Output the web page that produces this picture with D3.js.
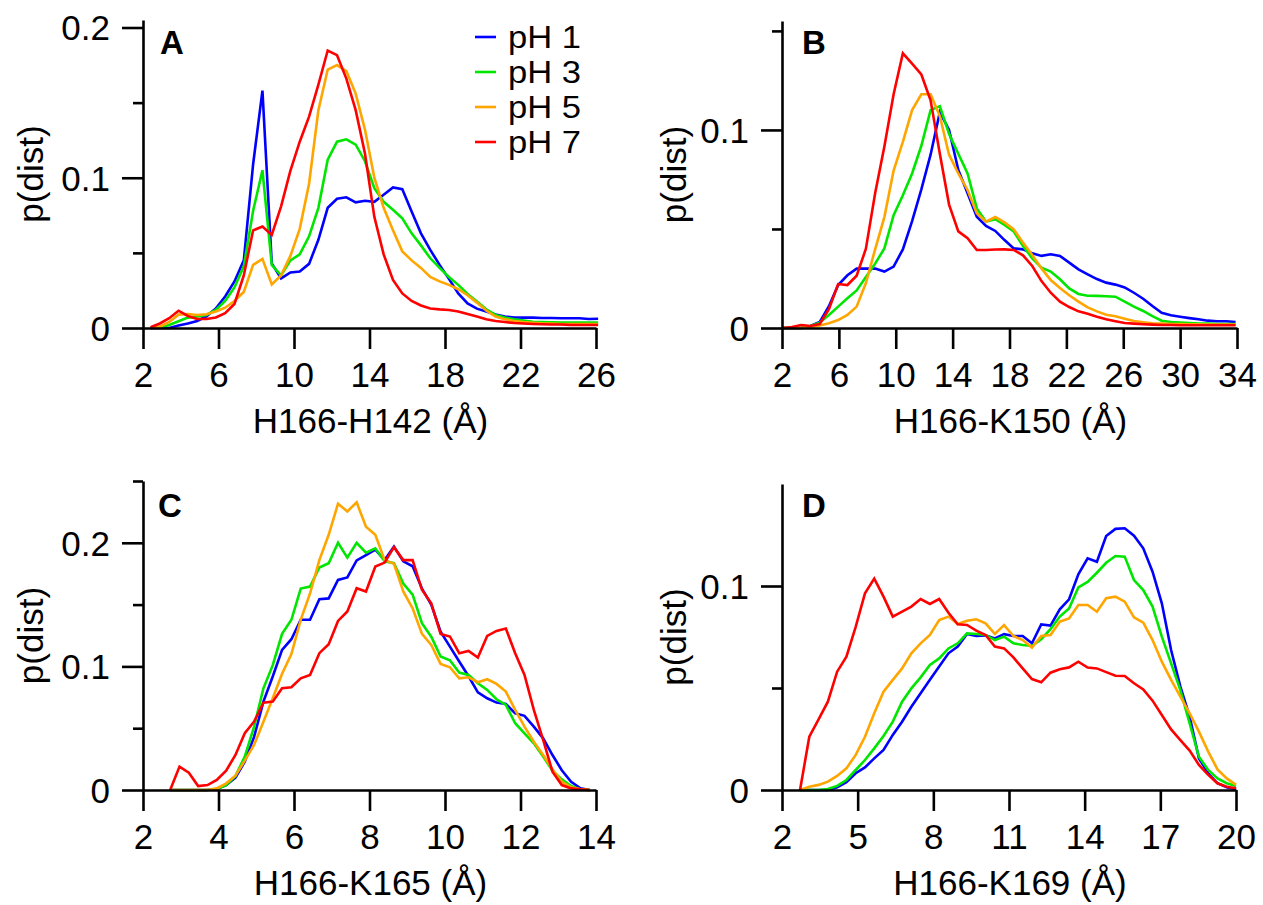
<!DOCTYPE html>
<html><head><meta charset="utf-8">
<script src="https://cdn.jsdelivr.net/npm/d3@7"></script>
<style>
body{margin:0;background:#fff}
text{font-family:"Liberation Sans",Arial,Helvetica,sans-serif}
</style>
</head><body>
<svg id="chart" width="1263" height="905"></svg>
<script>
const seriesNames = ["pH 1", "pH 3", "pH 5", "pH 7"];
const seriesColors = ["#0000ff", "#00e600", "#ffa500", "#ff0000"];

// Panel A: H166-H142
const aBinStart = 2.4, aBinWidth = 0.494;
const aPH1 = [0,0,0,0.0016,0.003,0.0047,0.0078,0.013,0.021,0.031,0.045,0.109,0.158,0.043,0.033,0.037,0.0376,0.0427,0.0587,0.080,0.086,0.087,0.0836,0.0847,0.084,0.0887,0.0936,0.0924,0.0776,0.063,0.052,0.042,0.0327,0.023,0.0164,0.0129,0.011,0.009,0.0076,0.007,0.0069,0.0069,0.0067,0.0067,0.0065,0.0065,0.0065,0.006,0.0062];
const aPH3 = [0,0.0005,0.002,0.0045,0.0069,0.0076,0.0087,0.012,0.018,0.027,0.041,0.078,0.105,0.042,0.035,0.045,0.049,0.061,0.080,0.112,0.124,0.1256,0.122,0.111,0.093,0.084,0.0787,0.073,0.063,0.055,0.0464,0.040,0.034,0.0287,0.0227,0.0176,0.0124,0.0087,0.007,0.0058,0.005,0.0042,0.004,0.0038,0.0036,0.0036,0.0036,0.0036,0.0036];
const aPH5 = [0,0.0009,0.004,0.0089,0.0093,0.0087,0.0091,0.011,0.0135,0.018,0.024,0.042,0.046,0.029,0.035,0.048,0.066,0.096,0.145,0.172,0.175,0.171,0.156,0.132,0.100,0.080,0.065,0.051,0.045,0.040,0.034,0.031,0.0287,0.0258,0.0218,0.0169,0.0116,0.0076,0.0058,0.0047,0.004,0.0035,0.0031,0.003,0.0027,0.0027,0.0027,0.0027,0.0027];
const aPH7 = [0.0005,0.003,0.0065,0.0115,0.008,0.006,0.006,0.007,0.0098,0.016,0.035,0.065,0.0676,0.062,0.081,0.1047,0.124,0.1407,0.162,0.1847,0.1816,0.166,0.145,0.116,0.074,0.049,0.032,0.023,0.018,0.015,0.013,0.0124,0.012,0.011,0.0093,0.0076,0.0058,0.0047,0.004,0.0033,0.003,0.0027,0.0025,0.0023,0.0023,0.002,0.002,0.002,0.002];
const aXTicks = [2, 6, 10, 14, 18, 22, 26];
const aYTicks = [0, 0.1, 0.2];
const aYMinor = [0.05, 0.15];
const aXLabel = "H166-H142 (Å)";

// Panel B: H166-K150
const bBinStart = 2.05, bBinWidth = 0.65;
const bPH1 = [0,0,0,0.001,0.003,0.011,0.0217,0.0266,0.030,0.030,0.030,0.0285,0.031,0.0397,0.054,0.070,0.0875,0.109,0.100,0.0798,0.068,0.0562,0.0515,0.049,0.0444,0.0402,0.0397,0.0377,0.0364,0.0372,0.0364,0.033,0.0296,0.0271,0.0247,0.0229,0.0219,0.0205,0.0178,0.0148,0.0111,0.0077,0.0064,0.0057,0.005,0.0044,0.0037,0.0034,0.0034,0.003];
const bPH3 = [0,0,0,0.001,0.0027,0.0066,0.0108,0.015,0.019,0.0257,0.0325,0.0402,0.057,0.067,0.078,0.092,0.110,0.112,0.098,0.088,0.078,0.0604,0.0537,0.0549,0.052,0.0487,0.0414,0.0352,0.0305,0.0285,0.0246,0.020,0.0172,0.0163,0.0162,0.016,0.0158,0.0133,0.0108,0.0086,0.006,0.0037,0.003,0.0027,0.0025,0.0022,0.0022,0.002,0.002,0.002];
const bPH5 = [0,0,0,0.0007,0.0013,0.0024,0.004,0.0066,0.0108,0.0227,0.0397,0.056,0.0795,0.094,0.110,0.118,0.118,0.107,0.0875,0.078,0.0697,0.058,0.0537,0.056,0.0533,0.0498,0.0431,0.0369,0.0301,0.0242,0.0202,0.0165,0.0133,0.0104,0.0084,0.0067,0.0059,0.0047,0.0035,0.0029,0.0024,0.0022,0.002,0.002,0.0019,0.0019,0.0018,0.0018,0.0018,0.0018];
const bPH7 = [0,0.0005,0.0015,0.001,0.002,0.0095,0.0222,0.0217,0.0264,0.040,0.068,0.0916,0.118,0.1387,0.1335,0.128,0.115,0.088,0.0623,0.0488,0.0453,0.0394,0.0394,0.0396,0.0397,0.0394,0.0367,0.0313,0.0237,0.0178,0.0133,0.0106,0.0084,0.0072,0.0057,0.0044,0.0034,0.0025,0.0022,0.0019,0.0017,0.0015,0.0015,0.0014,0.0014,0.0014,0.0014,0.0014,0.0014,0.0014];
const bXTicks = [2, 6, 10, 14, 18, 22, 26, 30, 34];
const bYTicks = [0, 0.1];
const bYMinor = [0.05, 0.15];
const bXLabel = "H166-K150 (Å)";

// Panel C: H166-K165
const cBinStart = 2.72, cBinWidth = 0.247;
const cPH1 = [0,0,0,0,0,0.0008,0.004,0.010,0.023,0.043,0.0715,0.0918,0.1134,0.122,0.1377,0.1377,0.1544,0.155,0.170,0.172,0.1857,0.190,0.1945,0.186,0.197,0.185,0.181,0.163,0.150,0.128,0.116,0.104,0.092,0.079,0.0742,0.0707,0.0696,0.062,0.060,0.0513,0.0418,0.0283,0.016,0.0067,0.0013,0];
const cPH3 = [0,0,0,0,0,0.0008,0.004,0.0113,0.027,0.0513,0.0823,0.101,0.1263,0.1377,0.163,0.1646,0.180,0.1835,0.200,0.188,0.200,0.192,0.1955,0.185,0.1835,0.167,0.158,0.135,0.124,0.108,0.105,0.095,0.093,0.0864,0.081,0.0734,0.0688,0.054,0.0459,0.0378,0.027,0.0157,0.0086,0.0032,0.0005,0];
const cPH5 = [0,0,0,0,0,0.0013,0.0054,0.0116,0.0238,0.0364,0.0553,0.0742,0.094,0.110,0.1377,0.159,0.186,0.2065,0.2316,0.2254,0.2327,0.213,0.2065,0.186,0.183,0.1606,0.147,0.1263,0.1174,0.102,0.0993,0.0904,0.0912,0.0872,0.0896,0.0858,0.0796,0.0648,0.0513,0.0391,0.0283,0.0167,0.0067,0.0022,0.0005,0];
const cPH7 = [0,0.0189,0.014,0.0032,0.004,0.0081,0.0157,0.0283,0.0459,0.0553,0.0707,0.0715,0.0823,0.0831,0.0904,0.0931,0.1107,0.118,0.1368,0.1444,0.1633,0.1606,0.1808,0.184,0.1965,0.186,0.186,0.162,0.151,0.1263,0.1242,0.1107,0.1125,0.1072,0.1247,0.1287,0.1306,0.1107,0.0931,0.0648,0.0405,0.0148,0.004,0.0013,0.0005,0];
const cXTicks = [2, 4, 6, 8, 10, 12, 14];
const cYTicks = [0, 0.1, 0.2];
const cYMinor = [0.05, 0.15, 0.25];
const cXLabel = "H166-K165 (Å)";

// Panel D: H166-K169
const dBinStart = 2.715, dBinWidth = 0.3678;
const dPH1 = [0,0,0,0,0.0013,0.0038,0.0082,0.0111,0.0155,0.0196,0.027,0.0335,0.0408,0.0474,0.054,0.0605,0.067,0.0703,0.0765,0.0755,0.0758,0.0743,0.0764,0.0755,0.0755,0.0719,0.0812,0.0806,0.0886,0.0935,0.1057,0.1136,0.1119,0.1245,0.128,0.1283,0.1247,0.1185,0.107,0.0915,0.0686,0.0507,0.036,0.0155,0.0082,0.0033,0.0013,0.0003];
const dPH3 = [0,0,0,0.0005,0.002,0.0049,0.0098,0.0147,0.0204,0.0265,0.0335,0.0433,0.0498,0.0552,0.0613,0.0645,0.0694,0.0719,0.0768,0.0765,0.076,0.0735,0.0752,0.0719,0.0711,0.0706,0.0739,0.0788,0.085,0.089,0.0993,0.102,0.1065,0.1114,0.1147,0.1144,0.1029,0.098,0.0899,0.0752,0.0621,0.049,0.0327,0.0163,0.0098,0.0057,0.0033,0.002];
const dPH5 = [0,0.0016,0.0025,0.0041,0.0069,0.0106,0.0172,0.0261,0.0376,0.0482,0.054,0.0596,0.067,0.0719,0.076,0.0833,0.085,0.0814,0.083,0.0837,0.0817,0.0765,0.0808,0.0755,0.0735,0.0698,0.0755,0.076,0.0825,0.0841,0.0907,0.0907,0.0874,0.094,0.0948,0.0923,0.0846,0.082,0.0735,0.0629,0.054,0.0458,0.0376,0.0286,0.0188,0.0101,0.0057,0.0025];
const dPH7 = [0,0.0261,0.0346,0.0433,0.058,0.0654,0.080,0.0964,0.1036,0.0948,0.085,0.0874,0.0899,0.0936,0.0912,0.0936,0.0869,0.0812,0.0809,0.0781,0.076,0.0703,0.0694,0.065,0.0596,0.0544,0.0528,0.0575,0.0592,0.0601,0.0629,0.060,0.0596,0.0578,0.056,0.0559,0.0523,0.0493,0.0438,0.0368,0.0297,0.0245,0.0193,0.0123,0.0074,0.0033,0.0016,0.0008];
const dXTicks = [2, 5, 8, 11, 14, 17, 20];
const dYTicks = [0, 0.1];
const dYMinor = [0.05];
const dXLabel = "H166-K169 (Å)";

const panels = [
  {letter: "A", start: aBinStart, step: aBinWidth, series: [aPH1, aPH3, aPH5, aPH7], xDomain: [2, 26], yMax: 0.205,
   xTicks: aXTicks, yTicks: aYTicks, yMinor: aYMinor, xLabel: aXLabel,
   box: {x0: 143, x1: 596, y0: 328, y1: 20}, letterPos: [160, 54], yTitleX: 43, legend: true},
  {letter: "B", start: bBinStart, step: bBinWidth, series: [bPH1, bPH3, bPH5, bPH7], xDomain: [2, 34], yMax: 0.155,
   xTicks: bXTicks, yTicks: bYTicks, yMinor: bYMinor, xLabel: bXLabel,
   box: {x0: 782, x1: 1237, y0: 328, y1: 21}, letterPos: [802, 54], yTitleX: 686},
  {letter: "C", start: cBinStart, step: cBinWidth, series: [cPH1, cPH3, cPH5, cPH7], xDomain: [2, 14], yMax: 0.25,
   xTicks: cXTicks, yTicks: cYTicks, yMinor: cYMinor, xLabel: cXLabel,
   box: {x0: 143, x1: 596, y0: 790, y1: 481}, letterPos: [158, 517], yTitleX: 43},
  {letter: "D", start: dBinStart, step: dBinWidth, series: [dPH1, dPH3, dPH5, dPH7], xDomain: [2, 20], yMax: 0.15,
   xTicks: dXTicks, yTicks: dYTicks, yMinor: dYMinor, xLabel: dXLabel,
   box: {x0: 782, x1: 1236, y0: 790, y1: 484}, letterPos: [802, 517], yTitleX: 686}
];

const FS = 35;
const LEGEND_FS = 31;
const svg = d3.select("#chart");
const fmtY = d => d === 0 ? "0" : d3.format(".1f")(d);

function styleAxis(g) {
  g.attr("font-size", FS).attr("font-family", '"Liberation Sans",Arial,sans-serif');
  g.selectAll("path,line").attr("stroke", "#000").attr("stroke-width", 2.6);
  g.selectAll("text").attr("fill", "#000");
}

panels.forEach(p => {
  const b = p.box;
  const x = d3.scaleLinear().domain(p.xDomain).range([b.x0, b.x1]);
  const y = d3.scaleLinear().domain([0, p.yMax]).range([b.y0, b.y1]);
  const g = svg.append("g");

  const line = d3.line().x(d => x(d[0])).y(d => y(d[1]));
  p.series.forEach((vals, si) => {
    const pts = vals.map((v, i) => [p.start + i * p.step, v]);
    g.append("path").datum(pts)
      .attr("d", line)
      .attr("fill", "none")
      .attr("stroke", seriesColors[si])
      .attr("stroke-width", 2.6)
      .attr("stroke-linejoin", "miter");
  });

  // minor y ticks
  const gm = g.append("g").attr("transform", `translate(${b.x0},0)`)
    .call(d3.axisLeft(y).tickValues(p.yMinor).tickSize(10).tickFormat(""));
  gm.select(".domain").remove();
  styleAxis(gm);

  // major y axis
  const gy = g.append("g").attr("transform", `translate(${b.x0},0)`)
    .call(d3.axisLeft(y).tickValues(p.yTicks).tickSize(21).tickSizeOuter(0).tickPadding(12).tickFormat(fmtY));
  styleAxis(gy);
  gy.selectAll("text").attr("dy", "0.35em");

  // x axis
  const gx = g.append("g").attr("transform", `translate(0,${b.y0})`)
    .call(d3.axisBottom(x).tickValues(p.xTicks).tickSize(21).tickSizeOuter(0).tickPadding(13).tickFormat(d3.format("d")));
  styleAxis(gx);

  // x title
  g.append("text")
    .attr("x", (b.x0 + b.x1) / 2 + 1).attr("y", b.y0 + 105)
    .attr("text-anchor", "middle").attr("font-size", FS).attr("fill", "#000")
    .text(p.xLabel);

  // y title
  g.append("text")
    .attr("transform", `translate(${p.yTitleX},${(b.y0 + b.y1) / 2}) rotate(-90)`)
    .attr("text-anchor", "middle").attr("font-size", FS).attr("fill", "#000")
    .text("p(dist)");

  // panel letter
  g.append("text")
    .attr("x", p.letterPos[0]).attr("y", p.letterPos[1])
    .attr("font-size", 33).attr("font-weight", "bold").attr("fill", "#000")
    .text(p.letter);

  if (p.legend) {
    const lg = g.append("g");
    seriesNames.forEach((name, i) => {
      const ly = 37 + i * 35;
      lg.append("line").attr("x1", 475).attr("x2", 496).attr("y1", ly).attr("y2", ly)
        .attr("stroke", seriesColors[i]).attr("stroke-width", 2.6);
      lg.append("text").attr("x", 508).attr("y", ly).attr("dy", "0.36em")
        .attr("font-size", LEGEND_FS).attr("fill", "#000")
        .attr("textLength", 73).attr("lengthAdjust", "spacingAndGlyphs")
        .text(name);
    });
  }
});
</script>
</body></html>
